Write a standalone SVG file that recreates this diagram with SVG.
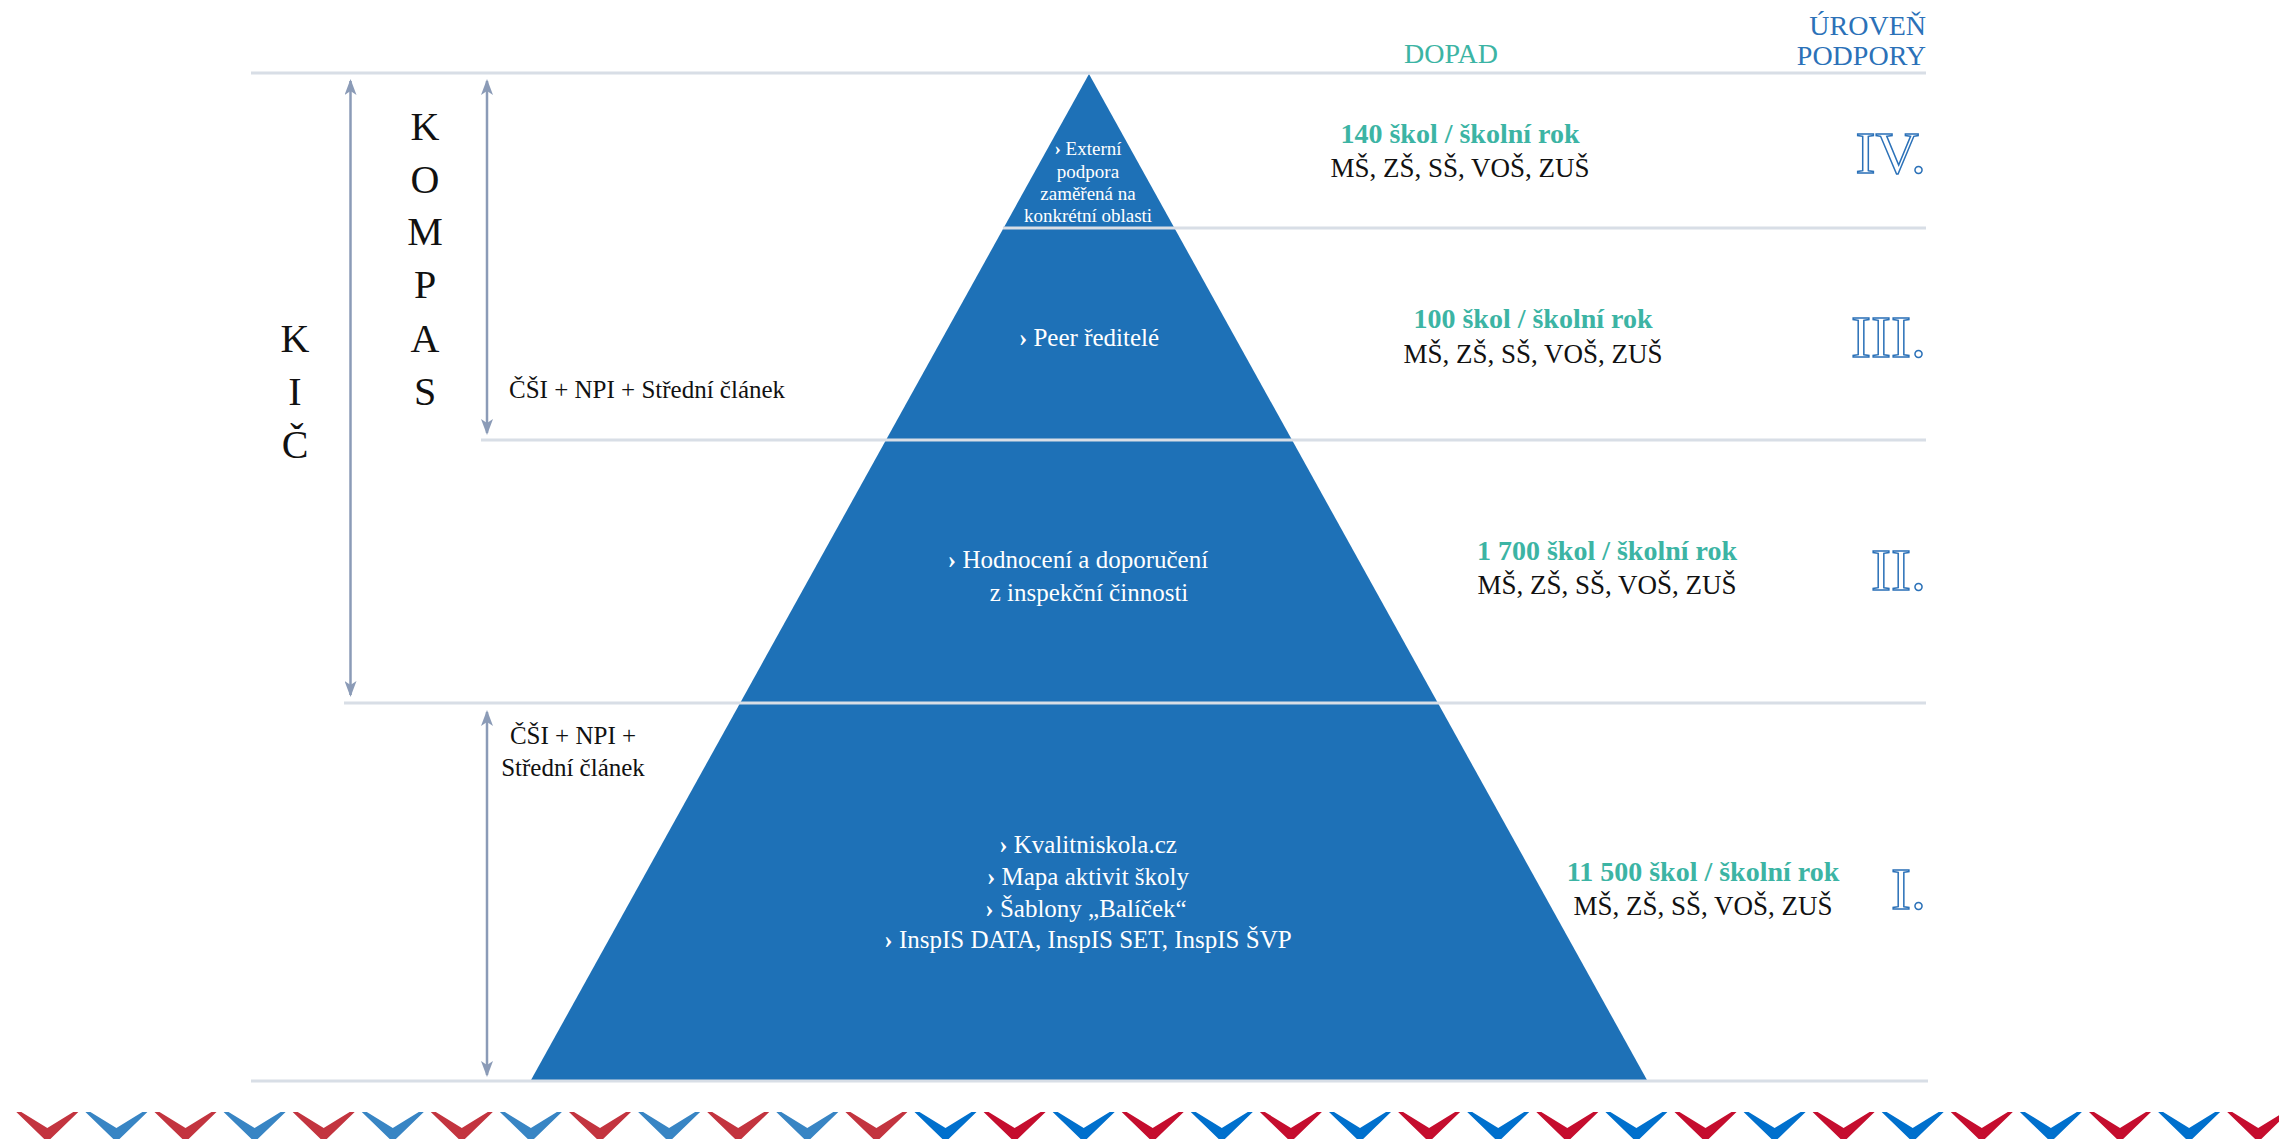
<svg xmlns="http://www.w3.org/2000/svg" width="2279" height="1139" viewBox="0 0 2279 1139">
<style>
text{font-family:"Liberation Serif","Times New Roman",serif;}
.sep{stroke:#d8dee6;stroke-width:3;fill:none}
.arr{stroke:#8b9bb7;stroke-width:2.5;fill:none}
.pw{fill:#ffffff;font-size:25px;text-anchor:middle}
.pw4{fill:#ffffff;font-size:19px;text-anchor:middle}
.bul{font-weight:bold}
.big{fill:#111;font-size:40px;text-anchor:middle}
.lab{fill:#111;font-size:25px}
.dop{fill:#3cb4a4;font-size:28px;font-weight:bold;text-anchor:middle}
.sch{fill:#111;font-size:27px;text-anchor:middle}
.hdr{font-size:28px}
.rom{fill:#ffffff;stroke:#2b71b8;stroke-width:1.5;font-size:60px;text-anchor:end}
.cr1{fill:#c3343f}.cb1{fill:#3885c4}.cr2{fill:#c50d2e}.cb2{fill:#0070cd}
</style>
<defs>
<marker id="ah" viewBox="0 0 16 12" markerWidth="16" markerHeight="12" refX="14" refY="6" orient="auto-start-reverse" markerUnits="userSpaceOnUse">
<path d="M0,0 L16,6 L0,12 L4,6 Z" fill="#8b9bb7"/>
</marker>
<polygon id="chev" points="-31,0 -26,0 0,16 26,0 31,0 0,30"/>
</defs>
<rect width="2279" height="1139" fill="#ffffff"/>

<g id="pyramid">
<polygon points="1089,74 531,1080 1647,1080" fill="#1e71b7"/>
</g>

<g id="separators">
<line class="sep" x1="251" y1="73" x2="1926" y2="73"/>
<line class="sep" x1="1003" y1="228" x2="1926" y2="228"/>
<line class="sep" x1="481" y1="440" x2="1926" y2="440"/>
<line class="sep" x1="344" y1="703" x2="1926" y2="703"/>
<line class="sep" x1="251" y1="1081" x2="1928" y2="1081"/>
</g>

<g id="headers">
<text class="hdr" x="1451" y="63" text-anchor="middle" fill="#3cb4a4">DOPAD</text>
<text class="hdr" x="1926" y="35" text-anchor="end" fill="#2b71b8">ÚROVEŇ</text>
<text class="hdr" x="1926" y="65" text-anchor="end" fill="#2b71b8">PODPORY</text>
</g>

<g id="kic">
<text class="big" x="295" y="352">K</text>
<text class="big" x="295" y="405">I</text>
<text class="big" x="295" y="458">Č</text>
</g>

<g id="kompas">
<text class="big" x="425" y="140">K</text>
<text class="big" x="425" y="193">O</text>
<text class="big" x="425" y="245">M</text>
<text class="big" x="425" y="298">P</text>
<text class="big" x="425" y="352">A</text>
<text class="big" x="425" y="405">S</text>
</g>

<g id="label-upper">
<text class="lab" x="509" y="398">ČŠI + NPI + Střední článek</text>
</g>
<g id="label-lower">
<text class="lab" x="573" y="744" text-anchor="middle">ČŠI + NPI +</text>
<text class="lab" x="573" y="776" text-anchor="middle">Střední článek</text>
</g>

<g id="tier4">
<text class="pw4" x="1088" y="155"><tspan class="bul">›</tspan> Externí</text>
<text class="pw4" x="1088" y="178">podpora</text>
<text class="pw4" x="1088" y="200">zaměřená na</text>
<text class="pw4" x="1088" y="222">konkrétní oblasti</text>
<text class="dop" x="1460" y="143">140 škol / školní rok</text>
<text class="sch" x="1460" y="177">MŠ, ZŠ, SŠ, VOŠ, ZUŠ</text>
<text class="rom" x="1926" y="173">IV.</text>
</g>

<g id="tier3">
<text class="pw" x="1089" y="346"><tspan class="bul">›</tspan> Peer ředitelé</text>
<text class="dop" x="1533" y="328">100 škol / školní rok</text>
<text class="sch" x="1533" y="363">MŠ, ZŠ, SŠ, VOŠ, ZUŠ</text>
<text class="rom" x="1926" y="357">III.</text>
</g>

<g id="tier2">
<text class="pw" x="1078" y="568"><tspan class="bul">›</tspan> Hodnocení a doporučení</text>
<text class="pw" x="1089" y="601">z inspekční činnosti</text>
<text class="dop" x="1607" y="560">1 700 škol / školní rok</text>
<text class="sch" x="1607" y="594">MŠ, ZŠ, SŠ, VOŠ, ZUŠ</text>
<text class="rom" x="1926" y="590">II.</text>
</g>

<g id="tier1">
<text class="pw" x="1088" y="853"><tspan class="bul">›</tspan> Kvalitniskola.cz</text>
<text class="pw" x="1088" y="885"><tspan class="bul">›</tspan> Mapa aktivit školy</text>
<text class="pw" x="1086" y="917"><tspan class="bul">›</tspan> Šablony „Balíček“</text>
<text class="pw" x="1088" y="948"><tspan class="bul">›</tspan> InspIS DATA, InspIS SET, InspIS ŠVP</text>
<text class="dop" x="1703" y="881">11 500 škol / školní rok</text>
<text class="sch" x="1703" y="915">MŠ, ZŠ, SŠ, VOŠ, ZUŠ</text>
<text class="rom" x="1926" y="909">I.</text>
</g>

<g id="connectors">
<line class="arr" x1="350.5" y1="695" x2="350.5" y2="81" marker-start="url(#ah)" marker-end="url(#ah)"/>
<line class="arr" x1="487" y1="433" x2="487" y2="81" marker-start="url(#ah)" marker-end="url(#ah)"/>
<line class="arr" x1="487" y1="1075" x2="487" y2="712" marker-start="url(#ah)" marker-end="url(#ah)"/>
</g>

<g id="chevrons">
<use href="#chev" class="cr1" x="47.3" y="1112"/>
<use href="#chev" class="cb1" x="116.4" y="1112"/>
<use href="#chev" class="cr1" x="185.5" y="1112"/>
<use href="#chev" class="cb1" x="254.6" y="1112"/>
<use href="#chev" class="cr1" x="323.7" y="1112"/>
<use href="#chev" class="cb1" x="392.8" y="1112"/>
<use href="#chev" class="cr1" x="461.8" y="1112"/>
<use href="#chev" class="cb1" x="530.9" y="1112"/>
<use href="#chev" class="cr1" x="600.0" y="1112"/>
<use href="#chev" class="cb1" x="669.1" y="1112"/>
<use href="#chev" class="cr1" x="738.2" y="1112"/>
<use href="#chev" class="cb1" x="807.3" y="1112"/>
<use href="#chev" class="cr1" x="876.4" y="1112"/>
<use href="#chev" class="cb2" x="945.5" y="1112"/>
<use href="#chev" class="cr2" x="1014.6" y="1112"/>
<use href="#chev" class="cb2" x="1083.7" y="1112"/>
<use href="#chev" class="cr2" x="1152.7" y="1112"/>
<use href="#chev" class="cb2" x="1221.8" y="1112"/>
<use href="#chev" class="cr2" x="1290.9" y="1112"/>
<use href="#chev" class="cb2" x="1360.0" y="1112"/>
<use href="#chev" class="cr2" x="1429.1" y="1112"/>
<use href="#chev" class="cb2" x="1498.2" y="1112"/>
<use href="#chev" class="cr2" x="1567.3" y="1112"/>
<use href="#chev" class="cb2" x="1636.4" y="1112"/>
<use href="#chev" class="cr2" x="1705.5" y="1112"/>
<use href="#chev" class="cb2" x="1774.6" y="1112"/>
<use href="#chev" class="cr2" x="1843.6" y="1112"/>
<use href="#chev" class="cb2" x="1912.7" y="1112"/>
<use href="#chev" class="cr2" x="1981.8" y="1112"/>
<use href="#chev" class="cb2" x="2050.9" y="1112"/>
<use href="#chev" class="cr2" x="2120.0" y="1112"/>
<use href="#chev" class="cb2" x="2189.1" y="1112"/>
<use href="#chev" class="cr2" x="2258.2" y="1112"/>
</g>
</svg>
